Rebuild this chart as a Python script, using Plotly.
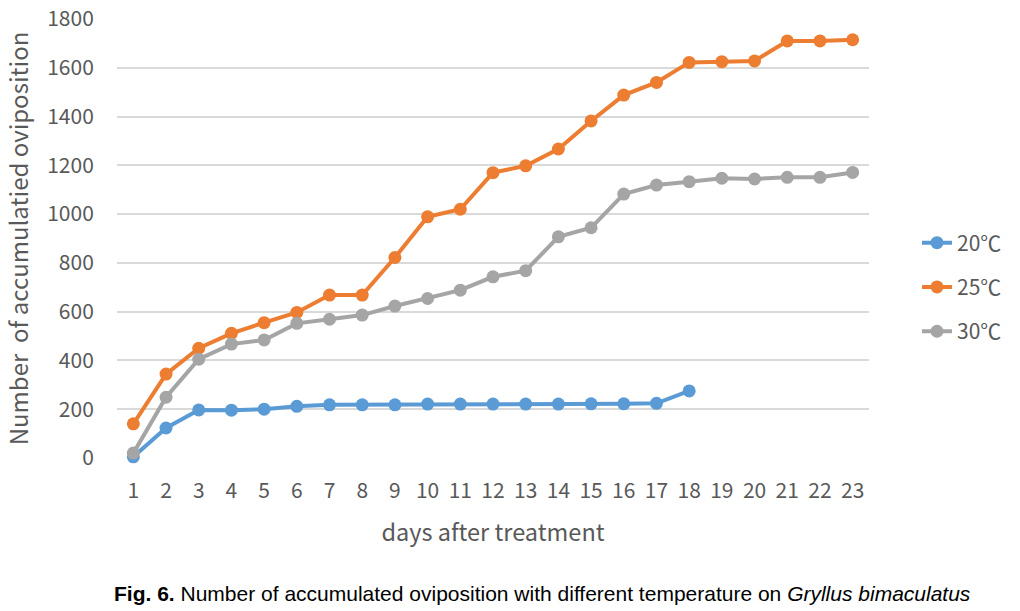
import plotly.graph_objects as go

days = list(range(1, 24))
labels = ["20℃", "25℃", "30℃"]
t20 = [5, 123, 197, 196, 200, 212, 218, 218, 218, 221, 221, 221, 221, 221, 222, 222, 224, 275]
t25 = [140, 344, 450, 511, 555, 597, 668, 668, 822, 989, 1020, 1170, 1198, 1267, 1382, 1488, 1540,
       1622, 1625, 1628, 1710, 1710, 1715]
t30 = [20, 249, 405, 467, 484, 552, 569, 586, 623, 654, 688, 743, 768, 907, 944, 1082, 1119,
       1133, 1147, 1144, 1151, 1151, 1171]
colors = ["#5b9bd5", "#ed7d31", "#a5a5a5"]
series = [t20, t25, t30]

FONT = "Noto Sans CJK KR, Noto Sans, sans-serif"
TXT = "#595959"

L, R, T, B = 117, 151, 19, 153
PW, PH = 1020 - L - R, 611 - T - B

fig = go.Figure()
for name, vals, col in zip(labels, series, colors):
    fig.add_trace(go.Scatter(
        x=days[:len(vals)], y=vals, name=name, mode="lines+markers",
        line=dict(color=col, width=4), marker=dict(color=col, size=13),
        cliponaxis=False, legendgroup=name,
    ))

fig.update_layout(
    width=1020, height=611,
    margin=dict(l=L, r=R, t=T, b=B, autoexpand=False),
    plot_bgcolor="white", paper_bgcolor="white",
    font=dict(family=FONT, color=TXT, size=21),
    showlegend=True,
    legend=dict(x=(917 - L) / PW, xanchor="left", y=(458 - 287) / PH, yanchor="middle",
                font=dict(size=21, color=TXT), tracegroupgap=14,
                bgcolor="rgba(0,0,0,0)"),
    xaxis=dict(range=[0.5, 23.5], tickmode="array", tickvals=days, automargin=False,
               ticktext=[str(d) for d in days], showgrid=False, zeroline=False,
               showline=False, ticks="outside", ticklen=14, tickcolor="rgba(0,0,0,0)",
               tickfont=dict(size=21, color=TXT),
               title=dict(text="days after treatment", font=dict(size=23.5, color=TXT), standoff=21)),
    yaxis=dict(range=[0, 1800], dtick=200, showgrid=True, gridcolor="#d9d9d9", gridwidth=1.5,
               zeroline=False, showline=False, ticks="outside", ticklen=18, automargin=False,
               tickcolor="rgba(0,0,0,0)", tickfont=dict(size=21, color=TXT),
               title=dict(text="Number  of accumulatied oviposition", font=dict(size=24, color=TXT), standoff=14)),
)

fig.add_annotation(
    x=(542 - L) / PW, y=(458 - 593) / PH, xref="paper", yref="paper", showarrow=False,
    xanchor="center", yanchor="middle",
    text="<b>Fig. 6.</b> Number of accumulated oviposition with different temperature on <i>Gryllus bimaculatus</i>",
    font=dict(family="Liberation Sans Narrow, Arial Narrow, sans-serif", size=21, color="#000000"),
)

fig.write_html("out.html", config={"displayModeBar": False},
               post_script="document.body.style.margin='0';document.body.style.overflow='hidden';")
